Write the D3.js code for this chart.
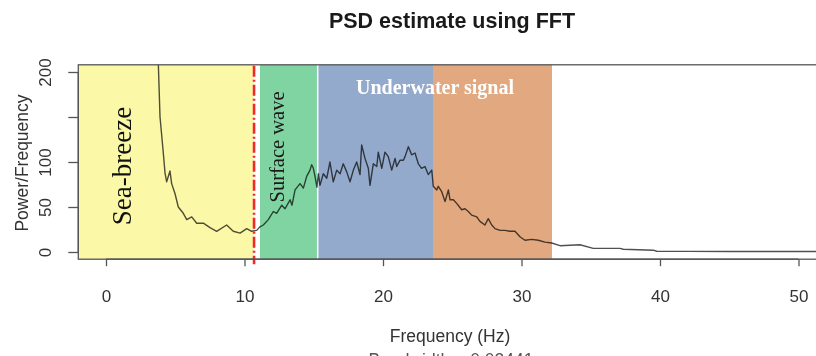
<!DOCTYPE html>
<html>
<head>
<meta charset="utf-8">
<script src="https://cdn.jsdelivr.net/npm/d3@7"></script>
<style>
  html, body { margin: 0; padding: 0; background: #ffffff; }
  svg { display: block; }
  text { font-family: "Liberation Sans", Arial, sans-serif; }
</style>
</head>
<body>
<svg id="chart" width="816" height="356"></svg>
<script>
// ---------- data ----------
const freq = [3.0, 3.4, 3.78, 3.90, 4.12, 4.26, 4.38, 4.62, 4.74, 4.98, 5.22, 5.58, 5.83, 6.19, 6.55, 7.03, 7.51, 7.99, 8.71, 9.19, 9.68, 10.16, 10.52, 10.88,
  11.12, 11.36, 11.72, 12.08, 12.32, 12.69, 12.92, 13.29, 13.43, 13.65, 14.01, 14.25, 14.49, 14.73, 14.85, 14.97, 15.09, 15.23,
  15.33, 15.45, 15.69, 15.94, 16.17, 16.41, 16.66, 16.90, 17.13, 17.38, 17.62, 17.86, 18.10, 18.34, 18.46, 18.70, 18.94, 19.06, 19.30, 19.55, 19.66, 19.91, 20.14, 20.38, 20.63, 20.87, 20.99, 21.23, 21.47, 21.59, 21.83, 22.07, 22.31, 22.55, 22.79, 23.03, 23.27, 23.52, 23.63, 23.88,
  23.99, 24.24, 24.48, 24.72, 24.84, 25.08, 25.32, 25.68, 25.92, 26.16, 26.40, 26.77, 27.00, 27.36, 27.60, 27.85, 28.09, 28.45, 28.81, 29.17, 29.53, 29.89, 30.25, 30.74, 31.21, 31.70, 32.18,
  32.78, 34.22, 35.18, 37.11, 37.35, 39.52, 39.76, 42.0, 45.0, 48.0, 50.0, 52.0];
const psd = [420, 300, 208, 150, 113, 88, 78, 90, 76, 65, 50, 43, 36, 39, 32, 32, 27, 23, 30, 23, 21, 26, 23, 24,
  28, 30, 36, 45, 43, 52, 48, 58, 52, 69, 76, 71, 84, 91, 97, 93, 84, 72,
  87, 74, 87, 82, 100, 78, 91, 87, 98, 89, 78, 91, 100, 86, 119, 104, 93, 74, 98, 95, 111, 93, 111, 106, 91, 104, 95, 102, 102, 106, 117, 108, 110, 98, 93, 95, 86, 91, 73, 69,
  73, 67, 56, 69, 58, 58, 54, 47, 48, 45, 41, 39, 34, 30, 37, 30, 26, 24, 24, 23, 23, 17, 13, 14, 13, 11, 10,
  7, 8, 4, 4, 3, 2, 0.8, 0.7, 0.6, 0.5, 0.5, 0.5];

const xTicks = [0, 10, 20, 30, 40, 50];
const yTicks = [0, 50, 100, 150, 200];
const yTickLabels = ["0", "50", "100", "", "200"];

const regionNames = ["Sea-breeze", "Surface wave", "Underwater signal", ""];
const regionStart = [-2.0, 11.12, 15.34, 23.61];
const regionEnd = [10.69, 15.23, 23.61, 32.2];
const regionColors = ["#fbf8a8", "#80d4a2", "#94aacc", "#e2a880"];
const cutoffFreq = 10.69;

const titleText = "PSD estimate using FFT";
const xLabel = "Frequency (Hz)";
const yLabel = "Power/Frequency";
const subText = "Bandwidth = 0.02441";

// ---------- layout ----------
const svg = d3.select("#chart");
const x = d3.scaleLinear().domain([-2, 52]).range([78.3, 826.2]);
const y = d3.scaleLinear().domain([-8, 208]).range([259.2, 64.8]);
const [px0, px1] = x.range();
const [py0, py1] = [y.range()[1], y.range()[0]];

svg.append("defs").append("clipPath").attr("id", "plotclip")
  .append("rect").attr("x", px0).attr("y", py0).attr("width", px1 - px0).attr("height", py1 - py0);

// regions
const regions = regionStart.map((s, i) => ({ s, e: regionEnd[i], c: regionColors[i] }));
svg.append("g").selectAll("rect").data(regions).join("rect")
  .attr("x", d => x(d.s)).attr("width", d => x(d.e) - x(d.s))
  .attr("y", y(208)).attr("height", y(-8) - y(208))
  .attr("fill", d => d.c);

// PSD line
const line = d3.line().x((d, i) => x(freq[i])).y(d => y(d));
svg.append("path").datum(psd)
  .attr("clip-path", "url(#plotclip)")
  .attr("d", line)
  .attr("fill", "none")
  .attr("stroke", "#505050")
  .attr("stroke-width", 1.4)
  .attr("stroke-linejoin", "round")
  .style("mix-blend-mode", "multiply");

// cutoff dash-dot line
svg.append("line")
  .attr("x1", x(cutoffFreq)).attr("x2", x(cutoffFreq))
  .attr("y1", py0 + 1).attr("y2", py1 + 5)
  .attr("stroke", "#ee2b2b").attr("stroke-width", 2.6)
  .attr("stroke-dasharray", "11,3,2,3");

// box
svg.append("rect").attr("x", px0).attr("y", py0).attr("width", px1 - px0).attr("height", py1 - py0)
  .attr("fill", "none").attr("stroke", "#555").attr("stroke-width", 1.3);

// x axis
const xAxis = d3.axisBottom(x).tickValues(xTicks).tickSize(7).tickPadding(0).tickFormat(d3.format("d"));
const gx = svg.append("g").attr("transform", `translate(0,${py1})`).call(xAxis);
gx.select(".domain").attr("d", `M${x(0)},0H${x(50)}`).attr("stroke", "#555").attr("stroke-width", 1.3);
gx.selectAll(".tick line").attr("stroke", "#555").attr("stroke-width", 1.3);
gx.selectAll(".tick text").attr("y", 43).attr("dy", null)
  .attr("font-size", 17).attr("fill", "#333").style("font-family", "Liberation Sans, Arial, sans-serif");

// y axis
const yAxis = d3.axisLeft(y).tickValues(yTicks).tickSize(10).tickPadding(0)
  .tickFormat((d, i) => yTickLabels[i]);
const gy = svg.append("g").attr("transform", `translate(${px0},0)`).call(yAxis);
gy.select(".domain").attr("d", `M0,${y(0)}V${y(200)}`).attr("stroke", "#555").attr("stroke-width", 1.3);
gy.selectAll(".tick line").attr("stroke", "#555").attr("stroke-width", 1.3);
gy.selectAll(".tick text")
  .attr("x", null).attr("dy", null)
  .attr("text-anchor", "middle")
  .attr("transform", "translate(-27,0) rotate(-90)")
  .attr("font-size", 17).attr("fill", "#333").style("font-family", "Liberation Sans, Arial, sans-serif");

// title and axis labels
svg.append("text").attr("x", 452).attr("y", 28).attr("text-anchor", "middle")
  .attr("font-size", 21.5).attr("font-weight", "bold").attr("fill", "#1a1a1a").text(titleText);
svg.append("text").attr("x", 450).attr("y", 342).attr("text-anchor", "middle")
  .attr("font-size", 17.5).attr("fill", "#333").text(xLabel);
svg.append("text").attr("x", 451).attr("y", 366).attr("text-anchor", "middle")
  .attr("font-size", 17.5).attr("fill", "#555").text(subText);
svg.append("text").attr("transform", `translate(28,${163}) rotate(-90)`).attr("text-anchor", "middle")
  .attr("font-size", 17.5).attr("fill", "#333").text(yLabel);

// region labels
const serif = "Liberation Serif, 'Times New Roman', serif";
svg.append("text").attr("transform", `translate(131,${166}) rotate(-90)`).attr("text-anchor", "middle")
  .style("font-family", serif).attr("font-size", 27).attr("fill", "#111").text(regionNames[0]);
svg.append("text").attr("transform", `translate(284,${147}) rotate(-90)`).attr("text-anchor", "middle")
  .style("font-family", serif).attr("font-size", 20.5).attr("fill", "#1a1a1a").text(regionNames[1]);
svg.append("text").attr("x", 435).attr("y", 94).attr("text-anchor", "middle")
  .style("font-family", serif).attr("font-size", 20).attr("font-weight", "bold").attr("fill", "#ffffff").text(regionNames[2]);
</script>
</body>
</html>
